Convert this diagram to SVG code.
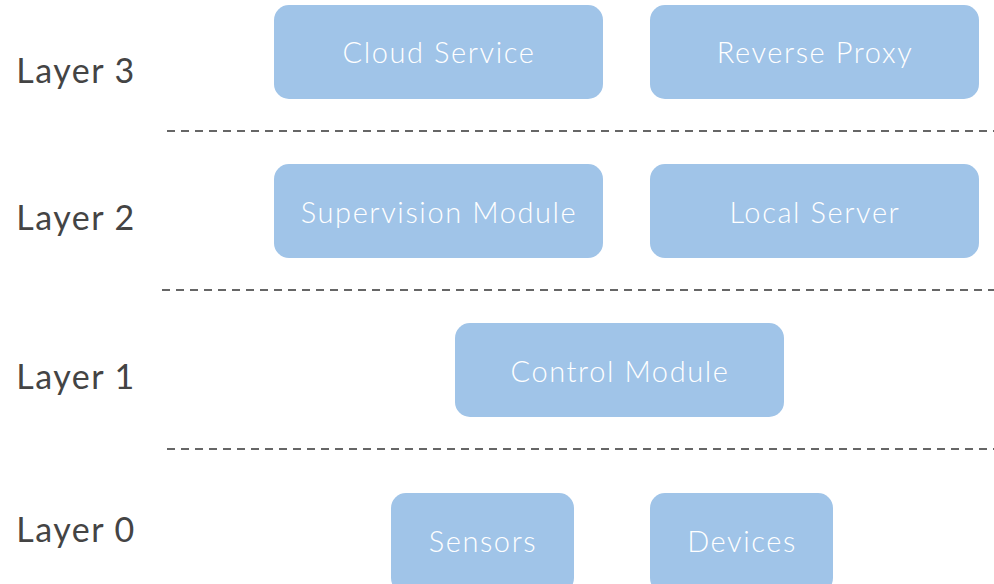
<svg xmlns="http://www.w3.org/2000/svg" width="994" height="584" viewBox="0 0 994 584">
  <style>
    .box { fill: #a0c4e8; }
    .node-text { font-family: Lato, "Open Sans", "Liberation Sans", sans-serif; font-size: 29px; font-weight: 300; letter-spacing: 1.6px; fill: #ffffff; text-anchor: middle; }
    .layer-text { font-family: Lato, "Open Sans", "Liberation Sans", sans-serif; font-size: 34px; font-weight: 400; letter-spacing: 1.5px; fill: #444444; text-anchor: middle; }
    .divider { stroke: #666666; stroke-width: 2; stroke-dasharray: 8 6; fill: none; }
  </style>
  <rect width="994" height="584" fill="#ffffff"/>

  <!-- layer labels -->
  <g id="layer-labels">
    <text class="layer-text" x="76" y="83">Layer 3</text>
    <text class="layer-text" x="76" y="230">Layer 2</text>
    <text class="layer-text" x="76" y="389">Layer 1</text>
    <text class="layer-text" x="76" y="542">Layer 0</text>
  </g>

  <!-- dashed separators between layers -->
  <g id="connectors">
    <line class="divider" x1="167" y1="131" x2="994" y2="131"/>
    <line class="divider" x1="162" y1="290" x2="994" y2="290"/>
    <line class="divider" x1="167" y1="449" x2="994" y2="449"/>
  </g>

  <g id="cloud-service">
    <rect class="box" x="274" y="5" width="329" height="94" rx="15"/>
    <text class="node-text" x="439" y="63">Cloud Service</text>
  </g>
  <g id="reverse-proxy">
    <rect class="box" x="650" y="5" width="329" height="94" rx="15"/>
    <text class="node-text" x="815" y="63">Reverse Proxy</text>
  </g>
  <g id="supervision-module">
    <rect class="box" x="274" y="164" width="329" height="94" rx="15"/>
    <text class="node-text" x="439" y="223">Supervision Module</text>
  </g>
  <g id="local-server">
    <rect class="box" x="650" y="164" width="329" height="94" rx="15"/>
    <text class="node-text" x="815" y="223">Local Server</text>
  </g>
  <g id="control-module">
    <rect class="box" x="455" y="323" width="329" height="94" rx="15"/>
    <text class="node-text" x="620" y="382">Control Module</text>
  </g>
  <g id="sensors">
    <rect class="box" x="391" y="493" width="183" height="100" rx="15"/>
    <text class="node-text" x="483" y="552">Sensors</text>
  </g>
  <g id="devices">
    <rect class="box" x="650" y="493" width="183" height="100" rx="15"/>
    <text class="node-text" x="742" y="552">Devices</text>
  </g>
</svg>
